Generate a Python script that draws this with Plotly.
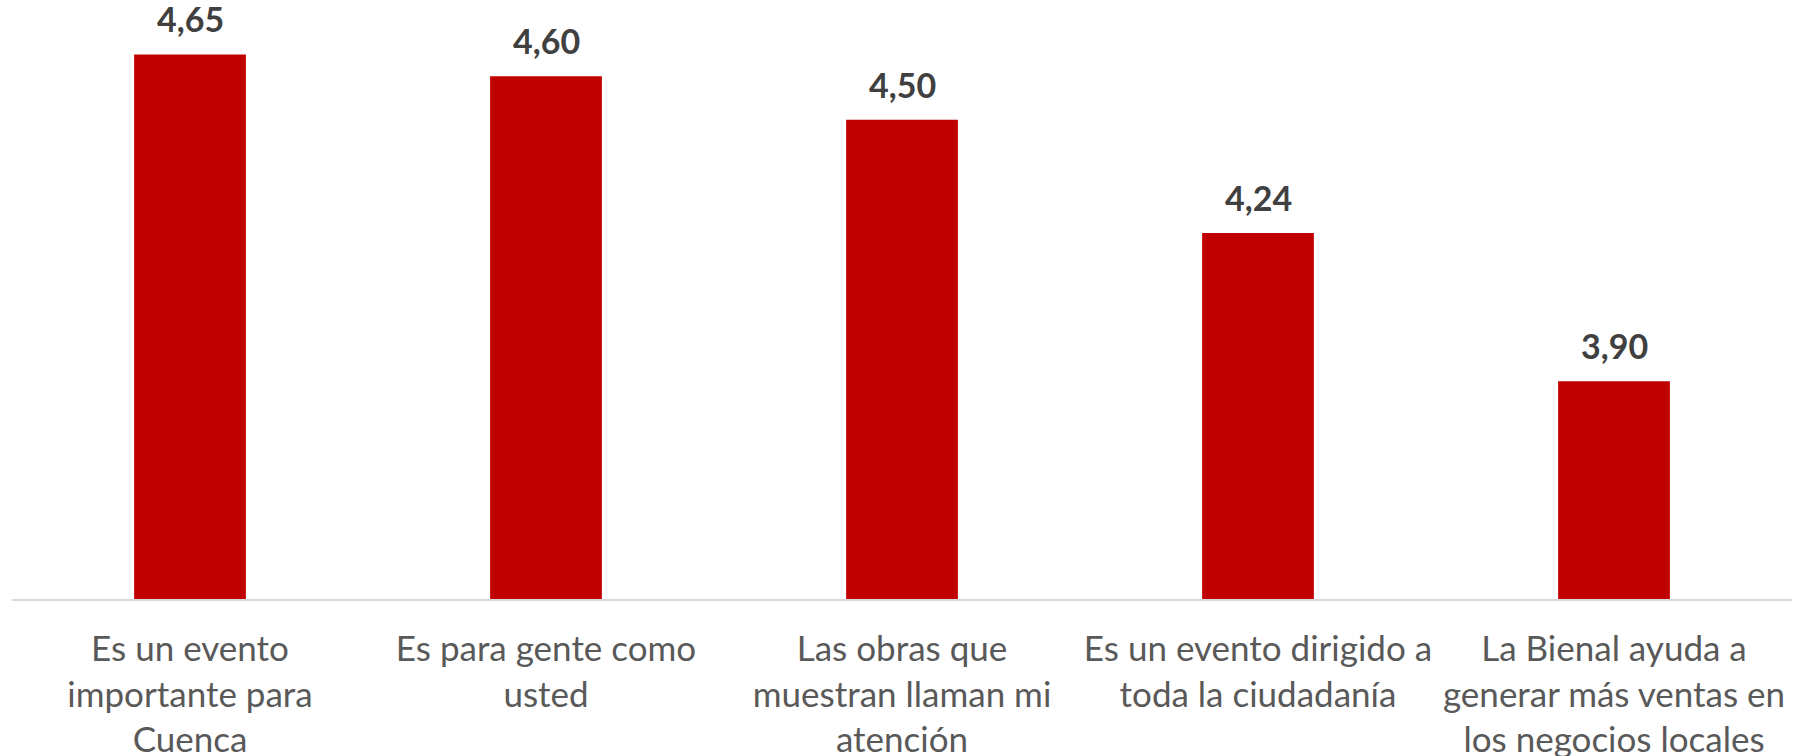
import plotly.graph_objects as go

categories = [
    "Es un evento<br>importante para<br>Cuenca",
    "Es para gente como<br>usted",
    "Las obras que<br>muestran llaman mi<br>atención",
    "Es un evento dirigido a<br>toda la ciudadanía",
    "La Bienal ayuda a<br>generar más ventas en<br>los negocios locales",
]
values = [4.65, 4.60, 4.50, 4.24, 3.90]
value_labels = [f"{v:.2f}".replace(".", ",") for v in values]

FONT = "Lato"

fig = go.Figure(
    go.Bar(
        x=categories,
        y=values,
        marker=dict(color="#C00000", line=dict(width=0)),
        hoverinfo="skip",
    )
)

for c, v, t in zip(categories, values, value_labels):
    fig.add_annotation(
        x=c, y=v, text=f"<b>{t}</b>", showarrow=False,
        yanchor="bottom", yshift=13,
        font=dict(family=FONT, size=34, color="#404040"),
    )

fig.update_layout(
    width=1800, height=756,
    margin=dict(l=12, r=8, t=0, b=157),
    paper_bgcolor="white", plot_bgcolor="white",
    bargap=0.686,
    showlegend=False,
    xaxis=dict(
        showline=True, linecolor="#D9D9D9", linewidth=2,
        showgrid=False, ticks="", zeroline=False,
        ticklabelstandoff=18,
        tickfont=dict(family=FONT, size=35, color="#595959"),
        automargin=False,
    ),
    yaxis=dict(
        range=[3.4, 4.775], visible=False, showgrid=False, zeroline=False,
    ),
)

fig.write_html(
    "out.html",
    config={"displayModeBar": False},
    post_script="document.body.style.margin='0';",
)
